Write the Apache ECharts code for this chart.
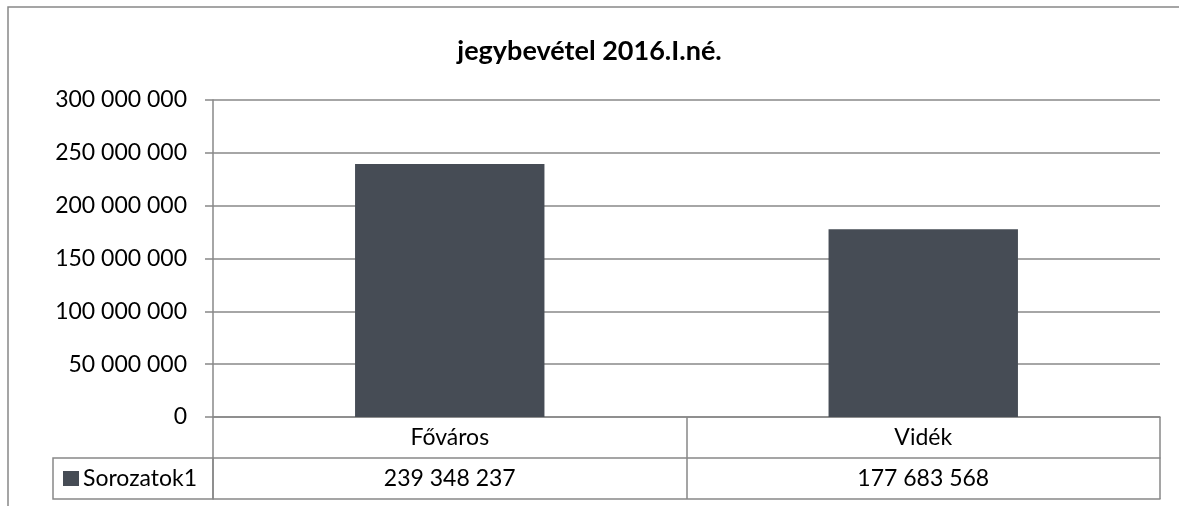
<!DOCTYPE html>
<html>
<head>
<meta charset="utf-8">
<title>jegybevétel 2016.I.né.</title>
<script src="https://cdn.jsdelivr.net/npm/echarts@6/dist/echarts.min.js"></script>
<style>
  html, body { margin: 0; padding: 0; background: #fff; }
  #chart { width: 1179px; height: 506px; }
</style>
</head>
<body>
<div id="chart"></div>
<script>
// adatok
const categories = ['Főváros', 'Vidék']
const values = [239348237, 177683568]
const seriesName = 'Sorozatok1'
const yTicks = [0, 50000000, 100000000, 150000000, 200000000, 250000000, 300000000]

const FONT = 'Lato'
const LINE = '#888888'
const BAR = '#464c55'

// ezres tagolás szóközzel
function fmt (v) {
  return String(v).replace(/\B(?=(\d{3})+(?!\d))/g, ' ')
}

const chart = echarts.init(document.getElementById('chart'))

const option = {
  animation: false,
  backgroundColor: '#fff',
  textStyle: { fontFamily: FONT },
  title: {
    text: 'jegybevétel 2016.I.né.',
    left: 'center',
    top: 33,
    textStyle: { fontFamily: FONT, fontSize: 27, fontWeight: 'bold', color: '#000' }
  },
  legend: {
    data: [seriesName],
    left: 63,
    top: 467,
    padding: 0,
    itemWidth: 16,
    itemHeight: 15,
    icon: 'rect',
    textStyle: { fontFamily: FONT, fontSize: 23, color: '#000', padding: [0, 0, 0, -1] }
  },
  grid: {
    left: 213,
    right: 19,
    top: 100,
    bottom: 89
  },
  yAxis: {
    type: 'value',
    min: yTicks[0],
    max: yTicks[yTicks.length - 1],
    interval: yTicks[1] - yTicks[0],
    axisLine: { show: true, lineStyle: { color: LINE, width: 1.5 } },
    axisTick: { show: true, length: 8, lineStyle: { color: LINE, width: 1.5 } },
    axisLabel: {
      margin: 26,
      fontFamily: FONT,
      fontSize: 23,
      color: '#000',
      formatter: v => fmt(v)
    },
    splitLine: { lineStyle: { color: LINE, width: 1.5 } }
  },
  xAxis: [
    {
      type: 'category',
      data: categories,
      axisLine: { lineStyle: { color: LINE, width: 1.5 } },
      axisTick: { show: true, length: 82, alignWithLabel: false, interval: 0, lineStyle: { color: LINE, width: 1.5 } },
      axisLabel: { margin: 9, fontFamily: FONT, fontSize: 23, color: '#000', interval: 0 }
    },
    {
      type: 'category',
      data: categories,
      position: 'bottom',
      offset: 41,
      axisLine: { show: true, lineStyle: { color: LINE, width: 1.5 } },
      axisTick: { show: false },
      axisLabel: {
        margin: 9,
        fontFamily: FONT,
        fontSize: 23,
        color: '#000',
        interval: 0,
        formatter: (v, i) => fmt(values[i])
      }
    },
    {
      type: 'category',
      data: categories,
      position: 'bottom',
      offset: 82,
      axisLine: { show: true, lineStyle: { color: LINE, width: 1.5 } },
      axisTick: { show: false },
      axisLabel: { show: false }
    }
  ],
  series: [
    {
      name: seriesName,
      type: 'bar',
      xAxisIndex: 0,
      barWidth: '40%',
      itemStyle: { color: BAR },
      data: values
    }
  ],
  graphic: [
    {
      // külső keret
      type: 'rect',
      shape: { x: 8, y: 7, width: 1300, height: 700 },
      style: { fill: 'none', stroke: LINE, lineWidth: 1.5 },
      silent: true
    },
    {
      // jelmagyarázat cellája
      type: 'rect',
      shape: { x: 53, y: 458, width: 160, height: 41 },
      style: { fill: 'none', stroke: LINE, lineWidth: 1.5 },
      silent: true
    }
  ]
}

chart.setOption(option)
</script>
</body>
</html>
